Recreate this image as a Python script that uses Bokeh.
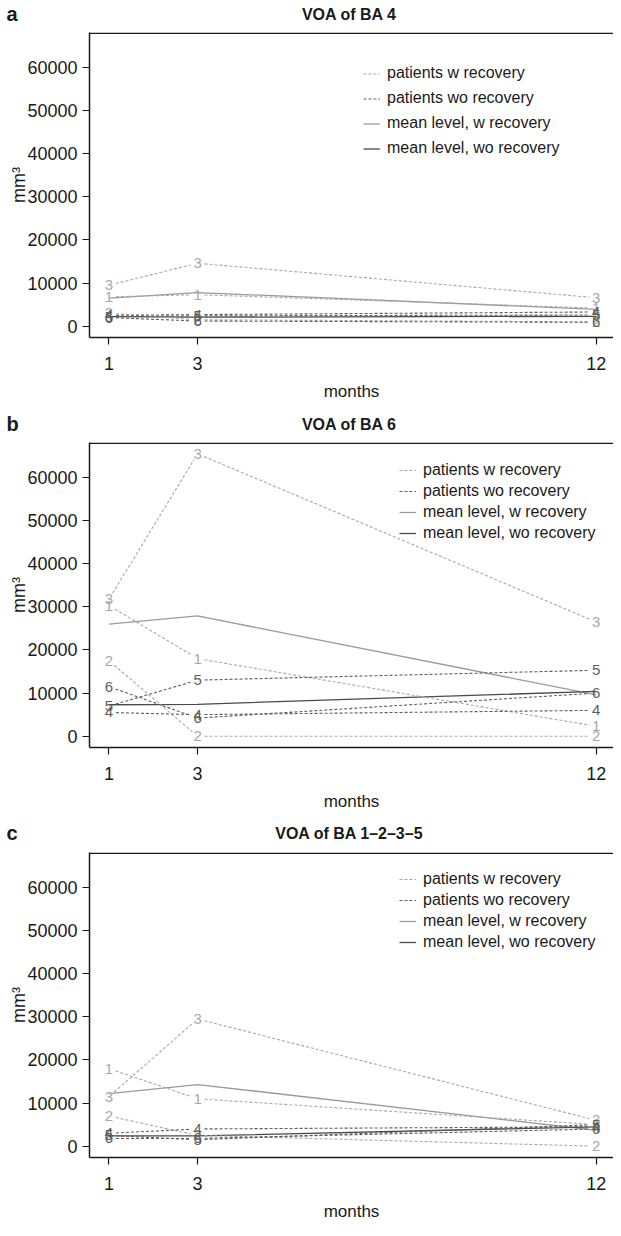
import math
from bokeh.plotting import figure
from bokeh.layouts import column
from bokeh.models import FixedTicker, NumeralTickFormatter, Range1d, Legend, LegendItem, Span
from bokeh.core.properties import value
from bokeh.embed import file_html
from bokeh.resources import INLINE

# ---------------- data ----------------
months = [1, 3, 12]
x_ticks = [1, 3, 12]
y_ticks = [0, 10000, 20000, 30000, 40000, 50000, 60000]

rec_ids = ["1", "2", "3"]
norec_ids = ["4", "5", "6"]

ba4_rec = [[6800, 7300, 4200], [3000, 1500, 1000], [9500, 14600, 6600]]
ba4_norec = [[2500, 2700, 3300], [2200, 2400, 2600], [2000, 1200, 900]]
ba4_mean_rec = [6500, 7800, 3900]
ba4_mean_norec = [2200, 2100, 2300]

ba6_rec = [[30300, 18000, 2300], [17500, 0, 0], [31800, 65500, 26500]]
ba6_norec = [[5500, 5000, 6000], [7000, 13000, 15300], [11500, 4200, 10000]]
ba6_mean_rec = [26000, 27900, 9600]
ba6_mean_norec = [7300, 7400, 10400]

ba1235_rec = [[18000, 11000, 5000], [7000, 2500, 0], [11500, 29500, 6000]]
ba1235_norec = [[3000, 4000, 4500], [2500, 1500, 5000], [1800, 1800, 4000]]
ba1235_mean_rec = [12200, 14300, 3700]
ba1235_mean_norec = [2400, 2400, 4500]

titles = ["VOA of BA 4", "VOA of BA 6", "VOA of BA 1\u20132\u20133\u20135"]
letters = ["a", "b", "c"]
legend_labels = ["patients w recovery", "patients wo recovery",
                 "mean level, w recovery", "mean level, wo recovery"]

# ---------------- layout / style ----------------
FONT = "Liberation Sans"
FIG_W = 613
FW, FH = 524, 305
LEFT = 89
X0, X1 = 0.56, 12.39
Y0, Y1 = -2620, 68120
SX = FW / (X1 - X0)
SY = FH / (Y1 - Y0)
INK = "#1a1a1a"
LIGHT = "#a8a8a8"
DARK = "#5e5e5e"
MEAN_LIGHT = "#9a9a9a"
MEAN_DARK = "#4a4a4a"
GAP = 7.0


def gapped_segments(xs, ys):
    x0s, y0s, x1s, y1s = [], [], [], []
    for i in range(len(xs) - 1):
        ax, ay, bx, by = xs[i], ys[i], xs[i + 1], ys[i + 1]
        dxp, dyp = (bx - ax) * SX, (by - ay) * SY
        L = math.hypot(dxp, dyp)
        if L <= 2 * GAP:
            continue
        f = GAP / L
        x0s.append(ax + (bx - ax) * f)
        y0s.append(ay + (by - ay) * f)
        x1s.append(bx - (bx - ax) * f)
        y1s.append(by - (by - ay) * f)
    return x0s, y0s, x1s, y1s


def make_header(k, h, title_y):
    p = figure(width=FIG_W, height=h, min_border=0, min_border_left=0, min_border_right=0,
               min_border_top=0, min_border_bottom=0,
               x_range=Range1d(0, FIG_W), y_range=Range1d(h, 0),
               x_axis_type=None, y_axis_type=None, frame_align=False,
               output_backend="svg", toolbar_location=None, tools="")
    p.xgrid.visible = False
    p.ygrid.visible = False
    p.outline_line_color = None
    p.background_fill_color = "white"
    p.border_fill_color = "white"
    cx = LEFT + (FW + 4) / 2.0 - 4
    p.text(x=[cx], y=[title_y], text=[titles[k]], text_font=value(FONT),
           text_font_size="16px", text_font_style="bold", text_color=INK,
           text_align="center", text_baseline="middle")
    p.text(x=[6], y=[title_y - 1], text=[letters[k]], text_font=value(FONT),
           text_font_size="20px", text_font_style="bold", text_color=INK,
           text_align="left", text_baseline="middle")
    return p


def make_panel(k, rec, norec, mean_rec, mean_norec, bottom, leg):
    p = figure(frame_width=FW, frame_height=FH, min_border_left=LEFT, min_border_right=0,
               min_border_top=2, min_border_bottom=bottom,
               x_range=Range1d(X0, X1), y_range=Range1d(Y0, Y1),
               output_backend="svg", toolbar_location=None, tools="")
    p.xgrid.visible = False
    p.ygrid.visible = False
    p.outline_line_color = None
    p.background_fill_color = "white"
    p.border_fill_color = "white"

    p.xaxis.ticker = FixedTicker(ticks=x_ticks)
    p.yaxis.ticker = FixedTicker(ticks=y_ticks)
    p.yaxis.formatter = NumeralTickFormatter(format="0")
    for ax in (p.xaxis[0], p.yaxis[0]):
        ax.axis_line_color = INK
        ax.axis_line_width = 1.5
        ax.major_tick_in = 0
        ax.major_tick_out = 7
        ax.major_tick_line_color = INK
        ax.major_tick_line_width = 1.2
        ax.minor_tick_line_color = None
        ax.major_label_text_font = FONT
        ax.major_label_text_font_size = "18px"
        ax.major_label_text_color = INK
        ax.axis_label_text_font = FONT
        ax.axis_label_text_font_style = "normal"
        ax.axis_label_text_color = INK
    p.xaxis.axis_label = "months"
    p.xaxis.axis_label_text_font_size = "17px"
    p.xaxis.major_label_standoff = 12
    p.xaxis.axis_label_standoff = 9
    p.yaxis.axis_label = "mm\u00b3"
    p.yaxis.axis_label_text_font_size = "18px"
    p.yaxis.major_label_standoff = 5
    p.yaxis.axis_label_standoff = -5

    # top border of the box (right side runs off the page in the reference)
    p.add_layout(Span(location=Y1 - 0.75 / SY, dimension="width",
                      line_color=INK, line_width=1.5))

    # mean lines
    r_mean_rec = p.line(months, mean_rec, line_color=MEAN_LIGHT, line_width=1.3)
    r_mean_norec = p.line(months, mean_norec, line_color=MEAN_DARK, line_width=1.3)

    first_rec = None
    first_norec = None
    for series, ids, col in ((rec, rec_ids, LIGHT), (norec, norec_ids, DARK)):
        for ys, pid in zip(series, ids):
            x0s, y0s, x1s, y1s = gapped_segments(months, ys)
            r = p.segment(x0=x0s, y0=y0s, x1=x1s, y1=y1s, line_color=col,
                          line_width=1.1, line_dash="3 2")
            p.text(x=months, y=ys, text=[pid] * len(months), text_color=col,
                   text_font=value(FONT), text_font_size="15px",
                   text_align="center", text_baseline="middle")
            if col == LIGHT and first_rec is None:
                first_rec = r
            if col == DARK and first_norec is None:
                first_norec = r

    fs, row_h, spacing, gx, first_c = leg
    n = 4
    leg_h = n * row_h + (n - 1) * spacing
    top = first_c - row_h / 2.0
    legend = Legend(items=[LegendItem(label=legend_labels[0], renderers=[first_rec]),
                           LegendItem(label=legend_labels[1], renderers=[first_norec]),
                           LegendItem(label=legend_labels[2], renderers=[r_mean_rec]),
                           LegendItem(label=legend_labels[3], renderers=[r_mean_norec])],
                    location=(gx, FH - top - leg_h),
                    border_line_color=None, background_fill_alpha=0,
                    padding=0, margin=0, spacing=spacing,
                    glyph_width=17, glyph_height=int(row_h), label_height=int(row_h),
                    label_standoff=7, label_text_font=FONT,
                    label_text_font_size=fs, label_text_color=INK)
    p.add_layout(legend, "center")
    return p


ha = make_header(0, 30, 14)
pa = make_panel(0, ba4_rec, ba4_norec, ba4_mean_rec, ba4_mean_norec, 65,
                ("16px", 21, 4, 274, 41))
hb = make_header(1, 37, 21)
pb = make_panel(1, ba6_rec, ba6_norec, ba6_mean_rec, ba6_mean_norec, 66,
                ("16px", 18, 3, 310, 28))
hc = make_header(2, 37, 20)
pc = make_panel(2, ba1235_rec, ba1235_norec, ba1235_mean_rec, ba1235_mean_norec, 72,
                ("16px", 18, 3, 310, 27))

layout = column(ha, pa, hb, pb, hc, pc, spacing=0)
open("out.html", "w").write(file_html(layout, INLINE))
